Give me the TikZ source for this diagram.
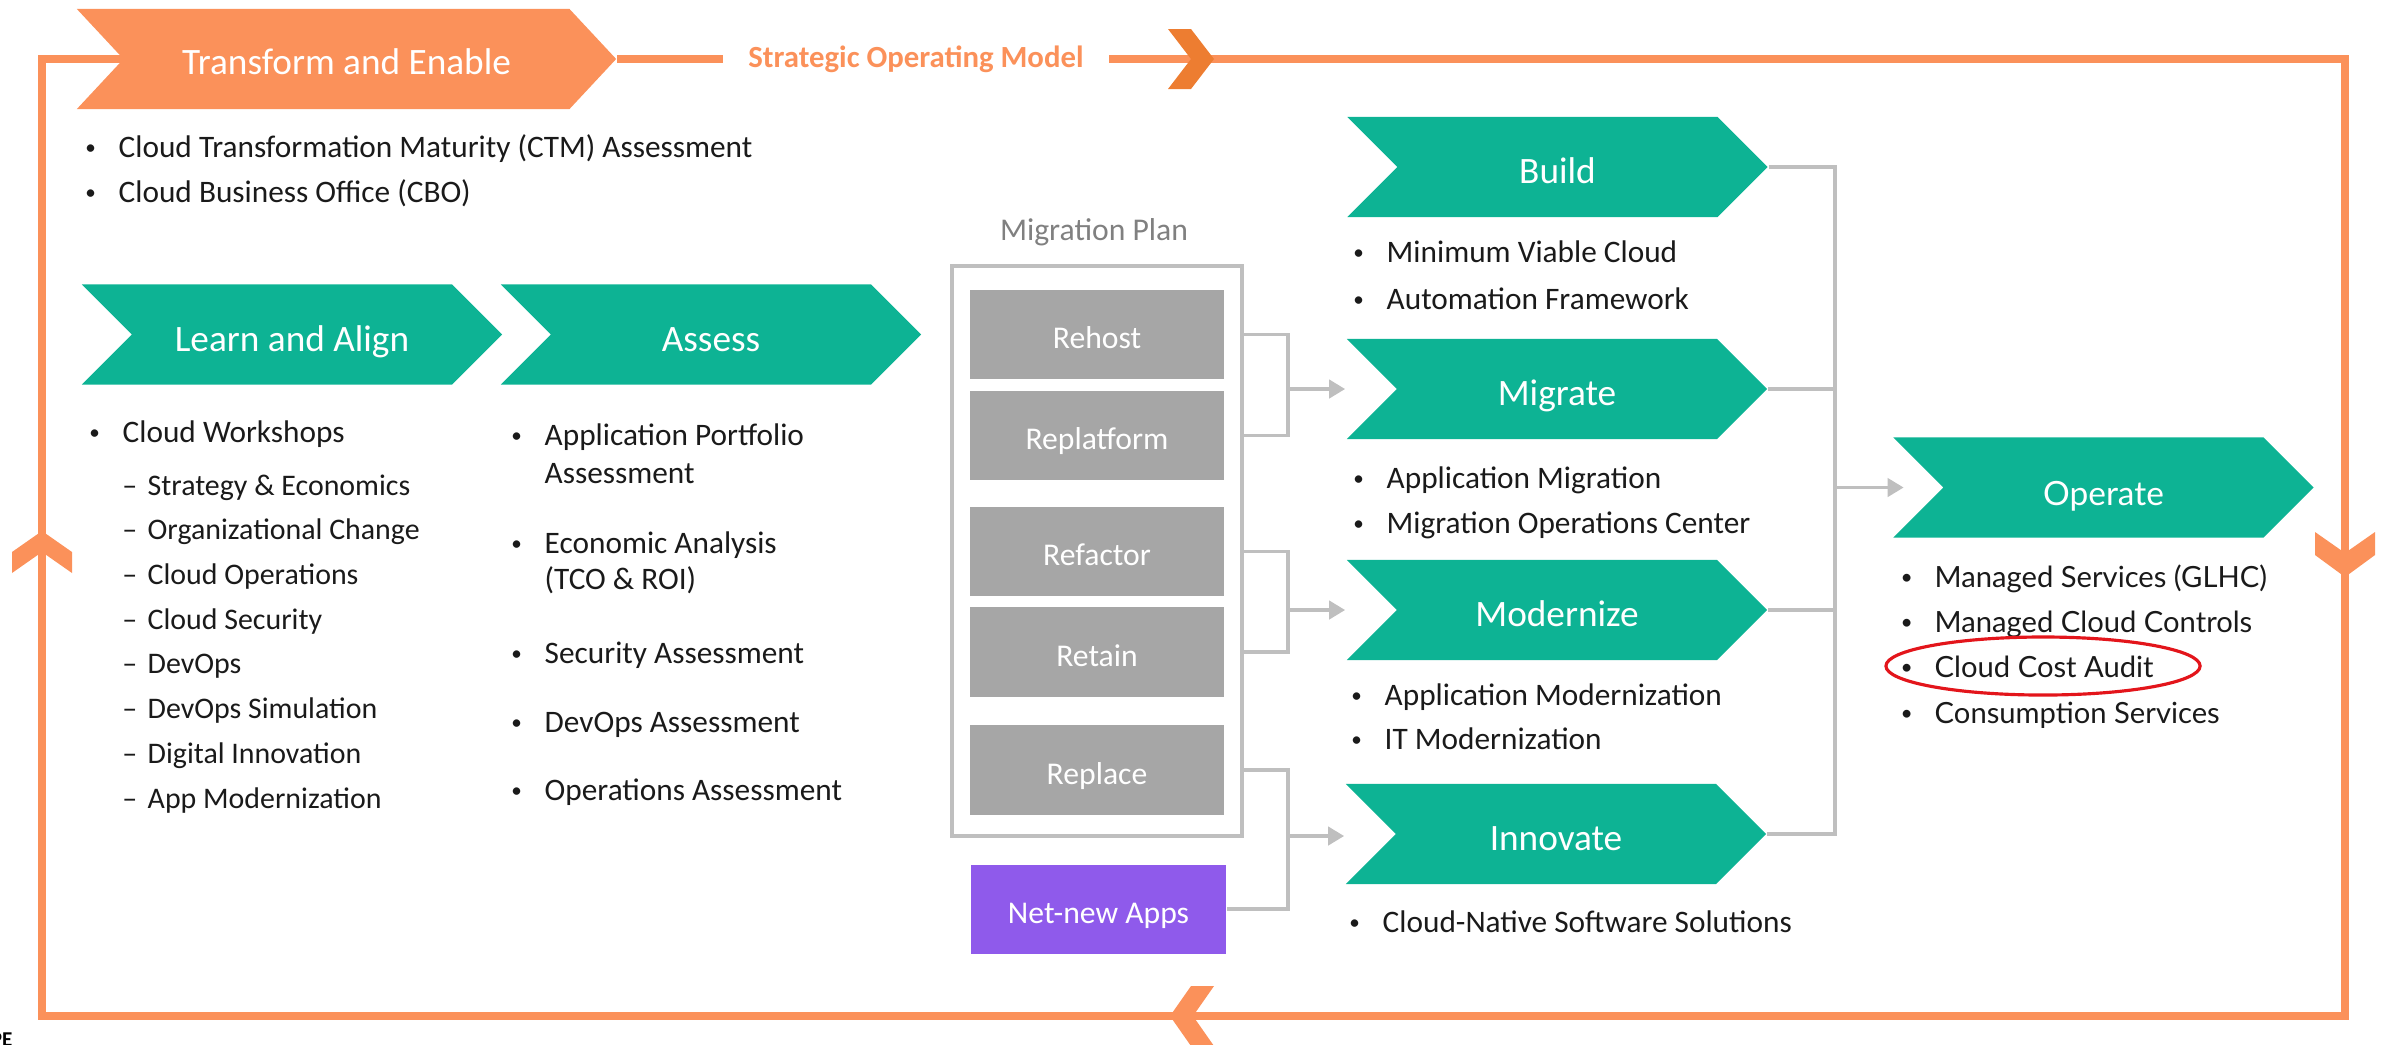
\documentclass[tikz,border=0pt]{standalone}
\usepackage{fontspec}
\setmainfont{Carlito}
\newfontfamily\opfont{Lato}
\usetikzlibrary{positioning,shapes.symbols,arrows.meta,backgrounds}

\definecolor{ringorange}{HTML}{FB915A}
\definecolor{ringdark}{HTML}{ED7D31}
\definecolor{stepgreen}{HTML}{0DB394}
\definecolor{boxgray}{HTML}{A6A6A6}
\definecolor{appviolet}{HTML}{8F5AEB}
\definecolor{linkgray}{HTML}{BFBFBF}
\definecolor{titlegray}{HTML}{808080}
\definecolor{ink}{HTML}{1A1A1A}
\definecolor{alertred}{HTML}{E3151B}

\newcommand\itemdot[1]{\makebox[0pt]{\fontsize{6}{6}\selectfont\raisebox{0.6pt}{•}}\hspace{0.28cm}#1}
\newcommand\subdash[1]{\makebox[0pt]{–}\hspace{0.18cm}#1}

\begin{document}
\begin{tikzpicture}[%
		x=0.01cm,
		y=-0.01cm,
		>={Triangle[length=0.16cm,width=0.18cm]},
		chevron/.style={%
			shape=signal,
			signal to=east,
			signal from=west,
			signal pointer angle=90,
			fill=stepgreen,
			text=white,
			inner sep=0pt,
			text height=0.33cm,
			text depth=0pt,
			minimum width=4.2cm,
			minimum height=1cm,
			font=\fontsize{10.6}{12}\selectfont
		},
		planbox/.style={%
			fill=boxgray,
			text=white,
			inner sep=0pt,
			text height=0.28cm,
			text depth=0pt,
			minimum width=2.54cm,
			minimum height=0.89cm,
			font=\fontsize{9}{11}\selectfont
		},
		item/.style={%
			anchor=west,
			inner sep=0pt,
			text height=0.2cm,
			text depth=0pt,
			text=ink,
			font=\fontsize{8.9}{10}\selectfont
		},
		subitem/.style={item, font=\fontsize{8.5}{10}\selectfont},
		opitem/.style={item, font=\opfont\fontsize{8.3}{10}\selectfont},
		link/.style={draw=linkgray, line width=1.1pt},
		ring/.style={draw=ringorange, line width=0.08cm}
		]
		\useasboundingbox (0,0) rectangle (2382,1044);
		
		% outer loop
		\node[chevron, fill=ringorange, minimum width=5.39cm, signal pointer angle=94, text height=0.3cm] (transform) at (346.5,59) {Transform and Enable};
		\node[inner xsep=0.25cm, text=ringorange, font=\bfseries\fontsize{8.75}{10}\selectfont] (model) at (916,59) {Strategic Operating Model};
		\coordinate (ne) at (2345,59);
		\coordinate (se) at (2345,1016);
		\coordinate (sw) at (42,1016);
		\coordinate (nw) at (42,59);
		
		\fill[ringdark]   (1168,29) -- (1191,29) -- (1214,59) -- (1191,89) -- (1168,89) -- (1191,59) -- cycle;
		\fill[ringorange] (1170,1016) -- (1191,986) -- (1214,986) -- (1193,1016) -- (1214,1046) -- (1191,1046) -- cycle;
		\fill[ringorange] (42,531) -- (72,552) -- (72,573) -- (42,552) -- (12,573) -- (12,552) -- cycle;
		\fill[ringorange] (2345,577) -- (2315,555) -- (2315,532) -- (2345,553) -- (2375,532) -- (2375,555) -- cycle;
		
		\node[item] (te1) at (90,147)                                   {\itemdot{Cloud Transformation Maturity (CTM) Assessment}};
		\node[item] (te2) at (90,192)                                   {\itemdot{Cloud Business Office (CBO)}};
		
		% learn and assess
		\node[chevron] (learn)  at (292,334.5)                          {Learn and Align};
		\node[chevron] (assess) at (711,334.5)                          {Assess};
		
		\node[item] (la0) at (94,432)                                   {\itemdot{Cloud Workshops}};
		\node[subitem] (la1) at (129,485)                               {\subdash{Strategy \& Economics}};
		\node[subitem] (la2) [below right=0.233cm and 0cm of la1.south west] {\subdash{Organizational Change}};
		\node[subitem] (la3) [below right=0.233cm and 0cm of la2.south west] {\subdash{Cloud Operations}};
		\node[subitem] (la4) [below right=0.233cm and 0cm of la3.south west] {\subdash{Cloud Security}};
		\node[subitem] (la5) [below right=0.233cm and 0cm of la4.south west] {\subdash{DevOps}};
		\node[subitem] (la6) [below right=0.233cm and 0cm of la5.south west] {\subdash{DevOps Simulation}};
		\node[subitem] (la7) [below right=0.233cm and 0cm of la6.south west] {\subdash{Digital Innovation}};
		\node[subitem] (la8) [below right=0.233cm and 0cm of la7.south west] {\subdash{App Modernization}};
		
		\node[item] (as1)  at (516,435)                                 {\itemdot{Application Portfolio}};
		\node[item] (as1b) at (544,473)                                 {Assessment};
		\node[item] (as2)  at (516,543)                                 {\itemdot{Economic Analysis}};
		\node[item] (as2b) at (544,579)                                 {(TCO \& ROI)};
		\node[item] (as3)  at (516,653)                                 {\itemdot{Security Assessment}};
		\node[item] (as4)  at (516,722)                                 {\itemdot{DevOps Assessment}};
		\node[item] (as5)  at (516,790)                                 {\itemdot{Operations Assessment}};
		
		% migration plan
		\node[draw=linkgray, line width=1.2pt, inner sep=0pt, minimum width=2.9cm, minimum height=5.7cm] (plan) at (1097,551) {};
		\node[text=titlegray, font=\fontsize{9}{11}\selectfont] (plantitle) at (1094,232) {Migration Plan};
		\node[planbox] (rehost)     at (1097,334.5)                     {Rehost};
		\node[planbox] (replatform) at (1097,435.5)                     {Replatform};
		\node[planbox] (refactor)   at (1097,551.5)                     {Refactor};
		\node[planbox] (retain)     at (1097,652)                       {Retain};
		\node[planbox] (replace)    at (1097,770)                       {Replace};
		\node[planbox, fill=appviolet, minimum width=2.55cm] (netnew) at (1098.5,909) {Net-new Apps};
		
		% build, migrate, modernize, innovate
		\node[chevron] (build)     at (1557.5,167)                      {Build};
		\node[chevron] (migrate)   at (1557,389)                        {Migrate};
		\node[chevron] (modernize) at (1557,610)                        {Modernize};
		\node[chevron] (innovate)  at (1556,834)                        {Innovate};
		
		\node[item] (bu1) at (1358,252)                                 {\itemdot{Minimum Viable Cloud}};
		\node[item] (bu2) at (1358,299)                                 {\itemdot{Automation Framework}};
		\node[item] (mi1) at (1358,478)                                 {\itemdot{Application Migration}};
		\node[item] (mi2) at (1358,523)                                 {\itemdot{Migration Operations Center}};
		\node[item] (mo1) at (1356,695)                                 {\itemdot{Application Modernization}};
		\node[item] (mo2) at (1356,739)                                 {\itemdot{IT Modernization}};
		\node[item] (in1) at (1354,922)                                 {\itemdot{Cloud-Native Software Solutions}};
		
		% operate
		\node[chevron, text height=0.35cm, font=\opfont\fontsize{9.5}{12}\selectfont] (operate) at (2103.5,487.5) {Operate};
		\node[opitem] (op1) at (1906,577)                               {\itemdot{Managed Services (GLHC)}};
		\node[opitem] (op2) at (1906,622)                               {\itemdot{Managed Cloud Controls}};
		\node[opitem] (op3) at (1906,667)                               {\itemdot{Cloud Cost Audit}};
		\node[opitem] (op4) at (1906,713)                               {\itemdot{Consumption Services}};
		\draw[draw=alertred, line width=0.9pt] (2043,666) ellipse [x radius=1.57cm, y radius=0.29cm];
		
		\node[anchor=north east, inner sep=0pt, text height=0.15cm, font=\bfseries\fontsize{6}{7}\selectfont] (logo) at (13,1031) {HPE};
		
		\coordinate (j1) at (1288,389);
		\coordinate (j2) at (1288,610);
		\coordinate (j3) at (1288,836);
		\coordinate (k)  at (1835,487.5);
		
		\begin{scope}[on background layer]
		\draw[ring] (transform.east) -- (model.west);
		\draw[ring] (model.east) -- (ne) -- (se) -- (sw) -- (nw) -- (nw -| transform.center);
		
		\draw[link] (rehost.east -| plan.east) -| (j1) |- (replatform.east -| plan.east);
		\draw[link] (refactor.east -| plan.east) -| (j2) |- (retain.east -| plan.east);
		\draw[link] (replace.east -| plan.east) -| (j3) |- (netnew.east);
		\draw[link,->] (j1) -- (j1 -| migrate.north west);
		\draw[link,->] (j2) -- (j2 -| modernize.north west);
		\draw[link,->] (j3) -- (j3 -| innovate.north west);
		
		\draw[link] (build.east) -| (k) |- (innovate.east);
		\draw[link] (migrate.east) -- (migrate.east -| k);
		\draw[link] (modernize.east) -- (modernize.east -| k);
		\draw[link,->, shorten >=-0.12cm] (k) -- (k -| operate.north west);
		\end{scope}
\end{tikzpicture}
\end{document}
